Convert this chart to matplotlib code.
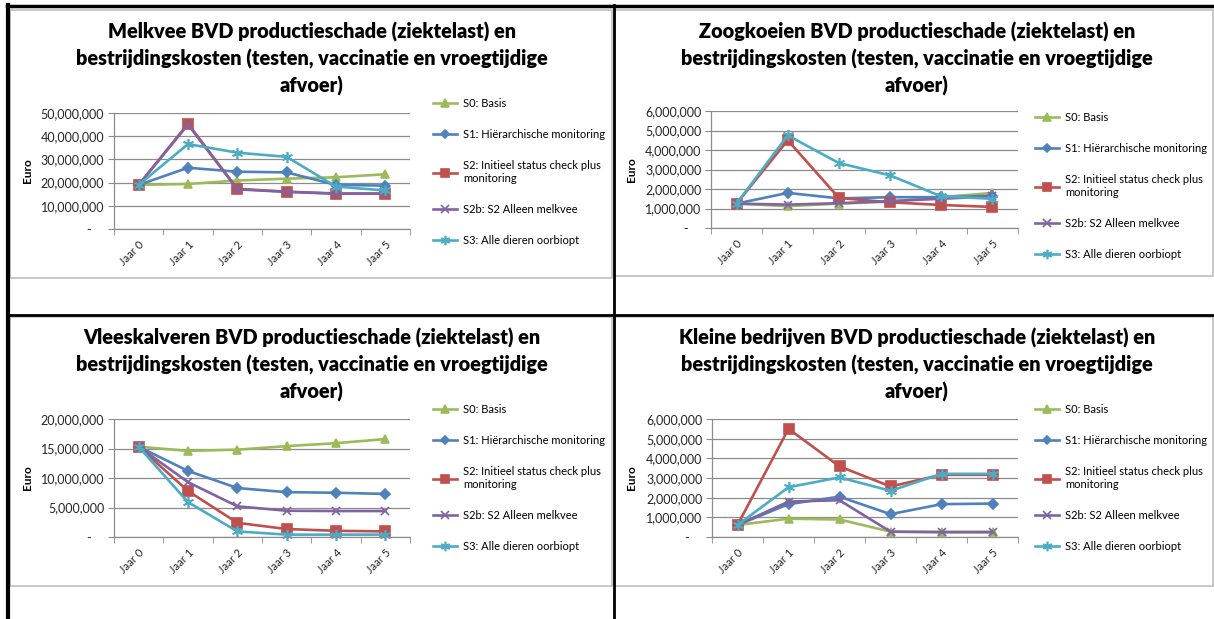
import matplotlib
matplotlib.use("Agg")
import matplotlib.pyplot as plt
from matplotlib.lines import Line2D
from matplotlib.patches import Rectangle
from matplotlib.ticker import FuncFormatter, MultipleLocator, FixedLocator

plt.rcParams['font.family'] = ['Lato', 'DejaVu Sans']

W, H = 1214, 619

years = ["Jaar 0", "Jaar 1", "Jaar 2", "Jaar 3", "Jaar 4", "Jaar 5"]
series_labels = ["S0: Basis", "S1: Hiërarchische monitoring",
                 "S2: Initieel status check plus\nmonitoring",
                 "S2b: S2 Alleen melkvee", "S3: Alle dieren oorbiopt"]

# values in euro
melkvee_s0 = [19.0e6, 19.4e6, 20.9e6, 21.7e6, 22.3e6, 23.6e6]
melkvee_s1 = [19.0e6, 26.4e6, 24.7e6, 24.4e6, 19.0e6, 18.7e6]
melkvee_s2 = [19.0e6, 45.4e6, 17.3e6, 16.1e6, 15.3e6, 15.3e6]
melkvee_s2b = [19.0e6, 45.0e6, 17.1e6, 16.0e6, 15.2e6, 15.2e6]
melkvee_s3 = [19.0e6, 36.6e6, 32.9e6, 31.1e6, 18.3e6, 16.6e6]

zoog_s0 = [1.25e6, 1.12e6, 1.25e6, 1.35e6, 1.58e6, 1.80e6]
zoog_s1 = [1.25e6, 1.80e6, 1.52e6, 1.58e6, 1.58e6, 1.65e6]
zoog_s2 = [1.25e6, 4.50e6, 1.54e6, 1.32e6, 1.18e6, 1.08e6]
zoog_s2b = [1.25e6, 1.20e6, 1.27e6, 1.38e6, 1.50e6, 1.62e6]
zoog_s3 = [1.25e6, 4.75e6, 3.33e6, 2.70e6, 1.62e6, 1.50e6]

vlees_s0 = [15.3e6, 14.6e6, 14.8e6, 15.4e6, 15.9e6, 16.6e6]
vlees_s1 = [15.3e6, 11.2e6, 8.3e6, 7.6e6, 7.5e6, 7.3e6]
vlees_s2 = [15.3e6, 7.8e6, 2.4e6, 1.35e6, 1.05e6, 0.95e6]
vlees_s2b = [15.3e6, 9.3e6, 5.2e6, 4.45e6, 4.4e6, 4.4e6]
vlees_s3 = [15.3e6, 5.9e6, 0.95e6, 0.4e6, 0.4e6, 0.4e6]

klein_s0 = [0.61e6, 0.93e6, 0.89e6, 0.27e6, 0.27e6, 0.27e6]
klein_s1 = [0.61e6, 1.67e6, 2.05e6, 1.16e6, 1.67e6, 1.70e6]
klein_s2 = [0.61e6, 5.50e6, 3.59e6, 2.57e6, 3.16e6, 3.16e6]
klein_s2b = [0.61e6, 1.80e6, 1.87e6, 0.27e6, 0.24e6, 0.24e6]
klein_s3 = [0.61e6, 2.53e6, 3.03e6, 2.35e6, 3.21e6, 3.21e6]

colors = ["#9BBB59", "#4F81BD", "#C0504D", "#8064A2", "#4BACC6"]
markers = ["^", "D", "s", "x", (6, 2, 0)]
msizes = [6, 5, 7, 6, 8]

title_tail = ["bestrijdingskosten (testen, vaccinatie en vroegtijdige", "afvoer)"]

panels = [
    dict(head="Melkvee BVD productieschade (ziektelast) en",
         data=[melkvee_s0, melkvee_s1, melkvee_s2, melkvee_s2b, melkvee_s3],
         ymax=50e6, step=10e6, box=(114, 113, 410, 229), tx=312, ty=33,
         leg=(433, 98), ylab=33),
    dict(head="Zoogkoeien BVD productieschade (ziektelast) en",
         data=[zoog_s0, zoog_s1, zoog_s2, zoog_s2b, zoog_s3],
         ymax=6e6, step=1e6, box=(711, 111, 1018, 228), tx=917, ty=33,
         leg=(1035, 112), ylab=637),
    dict(head="Vleeskalveren BVD productieschade (ziektelast) en",
         data=[vlees_s0, vlees_s1, vlees_s2, vlees_s2b, vlees_s3],
         ymax=20e6, step=5e6, box=(114, 419, 410, 537), tx=312, ty=339,
         leg=(433, 404), ylab=33),
    dict(head="Kleine bedrijven BVD productieschade (ziektelast) en",
         data=[klein_s0, klein_s1, klein_s2, klein_s2b, klein_s3],
         ymax=6e6, step=1e6, box=(712, 419, 1018, 537), tx=917, ty=339,
         leg=(1035, 404), ylab=637),
]


def fx(x):
    return x / W


def fy(y):
    return 1 - y / H


def euro(v, pos):
    return "-    " if abs(v) < 1 else f"{v:,.0f}"


fig = plt.figure(figsize=(W / 100, H / 100), dpi=100)

# chart frames (light grey) and table lines (black)
for (x0, y0, x1, y1) in [(10, 10, 612, 278), (615, 10, 1213, 276),
                         (10, 317, 612, 586), (615, 317, 1213, 586)]:
    fig.add_artist(Rectangle((fx(x0), fy(y1)), fx(x1 - x0), (y1 - y0) / H,
                             transform=fig.transFigure, fill=False,
                             edgecolor="#BFBFBF", lw=1.2))
for xs, ys, lw in [((7, 1214), (5.5, 5.5), 2.5), ((8, 8), (5, 619), 3),
                   ((613.5, 613.5), (5, 619), 2), ((7, 1214), (315, 315), 2)]:
    fig.add_artist(Line2D([fx(xs[0]), fx(xs[1])], [fy(ys[0]), fy(ys[1])],
                          transform=fig.transFigure, color="black", lw=lw))

for p in panels:
    x0, y0, x1, y1 = p["box"]
    ax = fig.add_axes([fx(x0), fy(y1), fx(x1 - x0), (y1 - y0) / H])
    lines = []
    for vals, lab, c, m, ms in zip(p["data"], series_labels, colors, markers, msizes):
        ln, = ax.plot(range(len(years)), vals, color=c, lw=1.9, marker=m,
                      markersize=ms, markeredgecolor=c, markeredgewidth=1.2,
                      label=lab, clip_on=False)
        lines.append(ln)

    ax.set_xlim(-0.5, len(years) - 0.5)
    ax.set_ylim(0, p["ymax"])
    ax.yaxis.set_major_locator(MultipleLocator(p["step"]))
    ax.yaxis.set_major_formatter(FuncFormatter(euro))
    ax.grid(axis="y", color="#8C8C8C", lw=0.9)
    ax.set_axisbelow(True)

    ax.xaxis.set_major_locator(FixedLocator(range(len(years))))
    ax.set_xticklabels(years, rotation=45, ha="right", va="top",
                       rotation_mode="anchor", fontsize=8, color="#262626")
    ax.xaxis.set_minor_locator(FixedLocator([i - 0.5 for i in range(len(years) + 1)]))
    ax.tick_params(axis="x", which="major", length=0, pad=7)
    ax.tick_params(axis="x", which="minor", length=4, color="#8C8C8C", direction="out")
    ax.tick_params(axis="y", length=4, color="#8C8C8C", labelsize=9,
                   labelcolor="#262626", pad=3)

    for side in ["top", "right"]:
        ax.spines[side].set_visible(False)
    for side in ["left", "bottom"]:
        ax.spines[side].set_color("#8C8C8C")
        ax.spines[side].set_linewidth(0.9)

    ax.set_ylabel("Euro", fontsize=8.5, fontweight="bold", color="black")
    ax.yaxis.set_label_coords((p["ylab"] - x0) / (x1 - x0), 0.5)

    fig.text(fx(p["tx"]), fy(p["ty"] - 11), "\n".join([p["head"]] + title_tail),
             ha="center", va="top", fontsize=14.3, fontweight="heavy",
             linespacing=1.42, transform=fig.transFigure)

    fig.legend(handles=lines, loc="upper left",
               bbox_to_anchor=(fx(p["leg"][0]), fy(p["leg"][1])),
               bbox_transform=fig.transFigure, frameon=False, fontsize=8,
               borderpad=0, borderaxespad=0, handlelength=2.2,
               handletextpad=0.5, labelspacing=1.8, markerscale=0.85)

fig.savefig("out.png", dpi=100)
